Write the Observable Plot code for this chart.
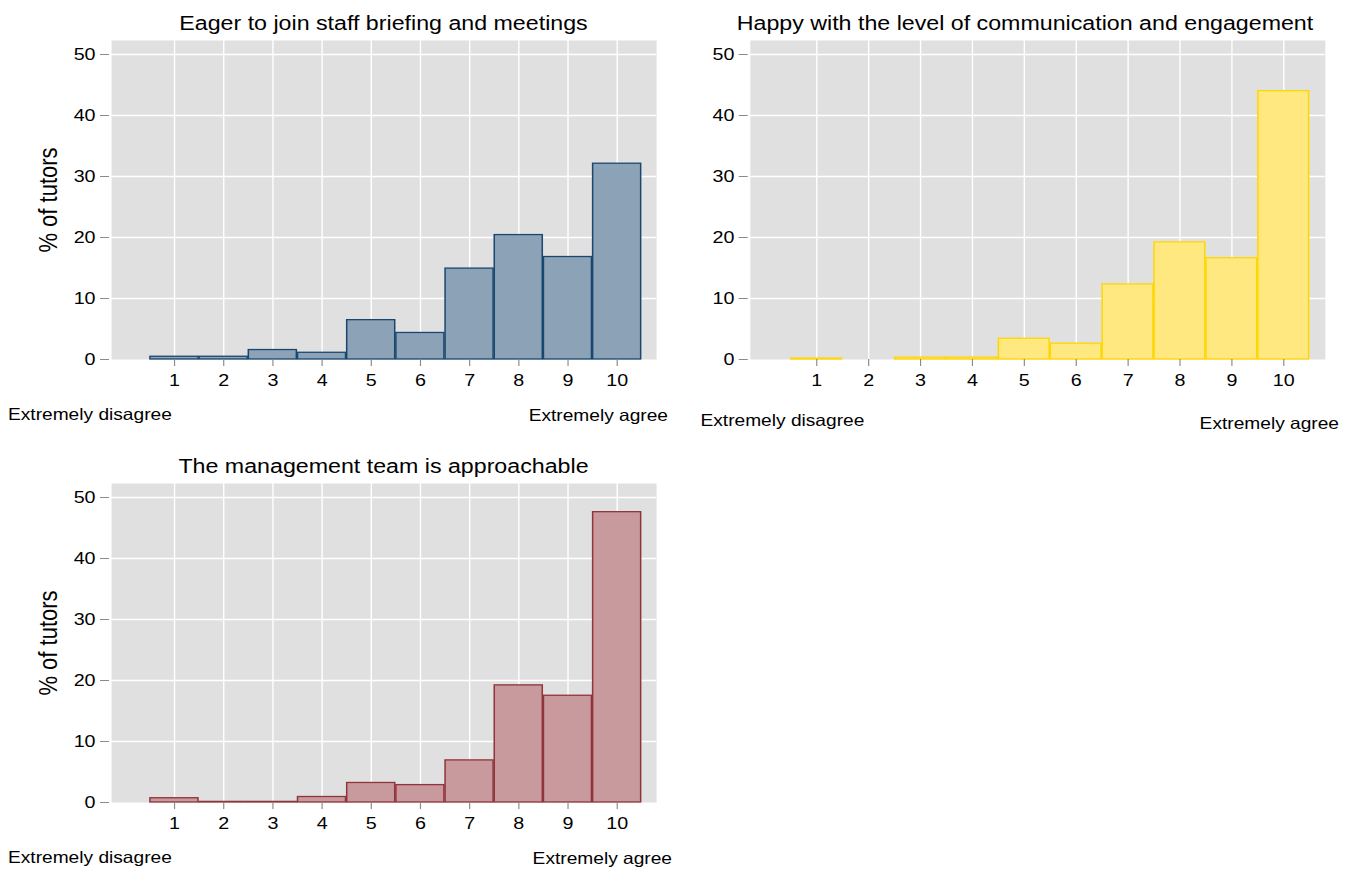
<!DOCTYPE html>
<html><head><meta charset="utf-8">
<script src="https://cdn.jsdelivr.net/npm/d3@7"></script>
<script src="https://cdn.jsdelivr.net/npm/@observablehq/plot@0.6"></script>
<style>
html,body{margin:0;padding:0;background:#fff;}
body{font-family:"Liberation Sans",Arial,sans-serif;width:1355px;height:870px;overflow:hidden;position:relative;}
#wrap{position:absolute;left:0;top:0;height:870px;transform-origin:0 0;}
.panel{position:absolute;}
.lbl{position:absolute;white-space:nowrap;line-height:1;color:#000;font-family:"Liberation Sans",Arial,sans-serif;}
</style></head><body><div id="wrap"></div>
<script>
// ---- data ----
const scores = [1, 2, 3, 4, 5, 6, 7, 8, 9, 10];
const eagerPct = [0.45, 0.45, 1.55, 1.1, 6.45, 4.35, 14.9, 20.4, 16.8, 32.1];
const happyPct = [0.15, 0, 0.3, 0.3, 3.4, 2.6, 12.3, 19.2, 16.6, 44.0];
const approachPct = [0.7, 0.1, 0.1, 0.9, 3.2, 2.85, 6.9, 19.2, 17.5, 47.6];
const titles = [
  "Eager to join staff briefing and meetings",
  "Happy with the level of communication and engagement",
  "The management team is approachable"
];
const yTicks = [0, 10, 20, 30, 40, 50];
const gridYTicks = [10, 20, 30, 40, 50];
const yLabel = "% of tutors";
const lowLabel = "Extremely disagree";
const highLabel = "Extremely agree";

// ---- layout ----
const S = 1.16; // horizontal stretch of the reference rendering
const wrap = document.getElementById("wrap");
wrap.style.width = (1355 / S) + "px";
wrap.style.transform = `scaleX(${S})`;

const panels = [
  {values: eagerPct, title: titles[0], stroke: "#1a476f", fill: "#8ca3b7",
   left: 0, top: 0, w: 680, h: 440, px0: 111, px1: 656, py0: 40, py1: 359,
   titleX: 383.5, titleBase: 30, lowX: 8, lowBase: 420, highX: 668, highBase: 421, showYLabel: true},
  {values: happyPct, title: titles[1], stroke: "#ffd700", fill: "#ffe880",
   left: 680, top: 0, w: 675, h: 440, px0: 750, px1: 1325, py0: 40, py1: 359,
   titleX: 1025, titleBase: 30, lowX: 700.5, lowBase: 425.5, highX: 1339, highBase: 428.5, showYLabel: false},
  {values: approachPct, title: titles[2], stroke: "#90353b", fill: "#c89a9d",
   left: 0, top: 442, w: 680, h: 428, px0: 111, px1: 656, py0: 483, py1: 802,
   titleX: 383.5, titleBase: 472.5, lowX: 8, lowBase: 863, highX: 672, highBase: 864, showYLabel: true}
];

function addLabel(text, x, baseline, size, anchor) {
  const d = document.createElement("div");
  d.className = "lbl";
  d.textContent = text;
  d.style.fontSize = size + "px";
  d.style.left = (x / S) + "px";
  d.style.top = (baseline - 0.8465 * size) + "px";
  if (anchor === "middle") d.style.transform = "translateX(-50%)";
  else if (anchor === "end") d.style.transform = "translateX(-100%)";
  wrap.appendChild(d);
}

for (const p of panels) {
  const data = scores.map((s, i) => ({s, v: p.values[i]})).filter(d => d.v > 0);
  const marks = [
    Plot.frame({fill: "#e0e0e0", stroke: "none"}),
    Plot.gridX(scores, {stroke: "#ffffff", strokeOpacity: 1, strokeWidth: 1.2}),
    Plot.gridY(gridYTicks, {stroke: "#ffffff", strokeOpacity: 1, strokeWidth: 1.6}),
    Plot.rectY(data, {x1: d => d.s - 0.5, x2: d => d.s + 0.5, y: "v",
      fill: p.fill, stroke: p.stroke, strokeWidth: 1.3, insetLeft: 0.5, insetRight: 0.5}),
    Plot.axisX(scores, {tickSize: 7, tickPadding: 7, stroke: "#8a8a8a", fill: "#000",
      fontSize: 17, label: null, tickFormat: d => String(d)}),
    Plot.axisY(yTicks, {tickSize: 9 / S, tickPadding: 5 / S, dx: -2 / S, stroke: "#8a8a8a", fill: "#000",
      fontSize: 17, label: null, tickFormat: d => String(d)})
  ];
  if (p.showYLabel) {
    marks.push(Plot.text([yLabel], {text: d => d, frameAnchor: "left", textAnchor: "middle",
      dx: -(p.px0 - 48) / S, rotate: -90, fontSize: 22, fill: "#000"}));
  }
  const chart = Plot.plot({
    width: p.w / S,
    height: p.h,
    marginLeft: (p.px0 - p.left) / S,
    marginRight: (p.left + p.w - p.px1) / S,
    marginTop: p.py0 - p.top,
    marginBottom: p.top + p.h - p.py1,
    x: {domain: [-0.28, 10.8], axis: null},
    y: {domain: [0, 52.3], axis: null},
    style: {fontFamily: "Liberation Sans, Arial, sans-serif", color: "#000", background: "transparent", overflow: "visible"},
    marks
  });
  const holder = document.createElement("div");
  holder.className = "panel";
  holder.style.left = (p.left / S) + "px";
  holder.style.top = p.top + "px";
  holder.appendChild(chart);
  wrap.appendChild(holder);

  addLabel(p.title, p.titleX, p.titleBase, 20, "middle");
  addLabel(lowLabel, p.lowX, p.lowBase, 16.5, "start");
  addLabel(highLabel, p.highX, p.highBase, 16.5, "end");
}
</script>
</body></html>
